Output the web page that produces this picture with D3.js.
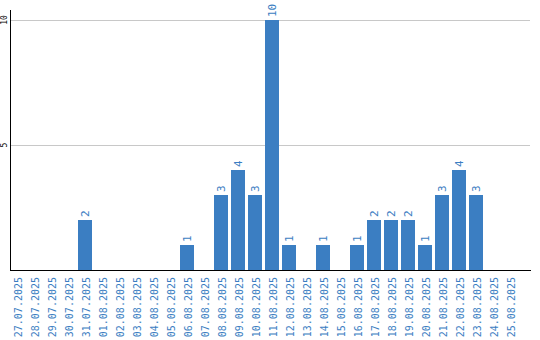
<!DOCTYPE html>
<html>
<head>
<meta charset="utf-8">
<script src="https://cdn.jsdelivr.net/npm/d3@7"></script>
<style>
  body { margin: 0; background: #fff; }
</style>
</head>
<body>
<div class="chart"></div>
<script>
const dates = ["27.07.2025", "28.07.2025", "29.07.2025", "30.07.2025", "31.07.2025",
  "01.08.2025", "02.08.2025", "03.08.2025", "04.08.2025", "05.08.2025",
  "06.08.2025", "07.08.2025", "08.08.2025", "09.08.2025", "10.08.2025",
  "11.08.2025", "12.08.2025", "13.08.2025", "14.08.2025", "15.08.2025",
  "16.08.2025", "17.08.2025", "18.08.2025", "19.08.2025", "20.08.2025",
  "21.08.2025", "22.08.2025", "23.08.2025", "24.08.2025", "25.08.2025"];
const counts = [0, 0, 0, 0, 2,
  0, 0, 0, 0, 0,
  1, 0, 3, 4, 3,
  10, 1, 0, 1, 0,
  1, 2, 2, 2, 1,
  3, 4, 3, 0, 0];
const yTicks = [5, 10];

const width = 540, height = 340;
const barColor = "#3b7ec2";
const font = "'DejaVu Sans Mono', monospace";

const rows = dates.map((dt, i) => ({date: dt, value: counts[i]}));
const nonZero = rows.filter(d => d.value > 0);

const svg = d3.select(".chart")
  .append("svg")
  .attr("width", width)
  .attr("height", height);

const x = d3.scaleBand()
  .domain(dates)
  .range([10, 517])
  .paddingInner(3 / 17)
  .paddingOuter(0);

const y = d3.scaleLinear()
  .domain([0, 10])
  .range([270, 20]);

// grid lines
svg.append("g")
  .selectAll("line")
  .data(yTicks)
  .enter()
  .append("line")
  .attr("x1", 10)
  .attr("x2", 530)
  .attr("y1", d => y(d) + 0.5)
  .attr("y2", d => y(d) + 0.5)
  .attr("stroke", "#c8c8c8");

// y tick labels, rotated
svg.append("g")
  .selectAll("text")
  .data(yTicks)
  .enter()
  .append("text")
  .attr("transform", d => `translate(7, ${y(d)}) rotate(-90)`)
  .attr("text-anchor", "middle")
  .attr("font-family", font)
  .attr("font-size", "8px")
  .attr("fill", "#000")
  .text(d => d);

// bars
svg.append("g")
  .selectAll("rect")
  .data(nonZero)
  .enter()
  .append("rect")
  .attr("x", d => x(d.date))
  .attr("y", d => y(d.value))
  .attr("width", x.bandwidth())
  .attr("height", d => y(0) - y(d.value))
  .attr("fill", barColor);

// value labels
svg.append("g")
  .selectAll("text")
  .data(nonZero)
  .enter()
  .append("text")
  .attr("transform", d => `translate(${x(d.date) + x.bandwidth() / 2 + 4}, ${y(d.value) - 3}) rotate(-90)`)
  .attr("text-anchor", "start")
  .attr("font-family", font)
  .attr("font-size", "11px")
  .attr("fill", barColor)
  .text(d => d.value);

// axis lines
svg.append("line")
  .attr("x1", 10.5).attr("x2", 10.5)
  .attr("y1", 10).attr("y2", 270)
  .attr("stroke", "#000");
svg.append("line")
  .attr("x1", 10).attr("x2", 531)
  .attr("y1", 270.5).attr("y2", 270.5)
  .attr("stroke", "#000");

// date labels
svg.append("g")
  .selectAll("text")
  .data(dates)
  .enter()
  .append("text")
  .attr("transform", d => `translate(${x(d) + x.bandwidth() / 2 + 5}, 277) rotate(-90)`)
  .attr("text-anchor", "end")
  .attr("font-family", font)
  .attr("font-size", "10px")
  .attr("fill", barColor)
  .text(d => d);
</script>
</body>
</html>
